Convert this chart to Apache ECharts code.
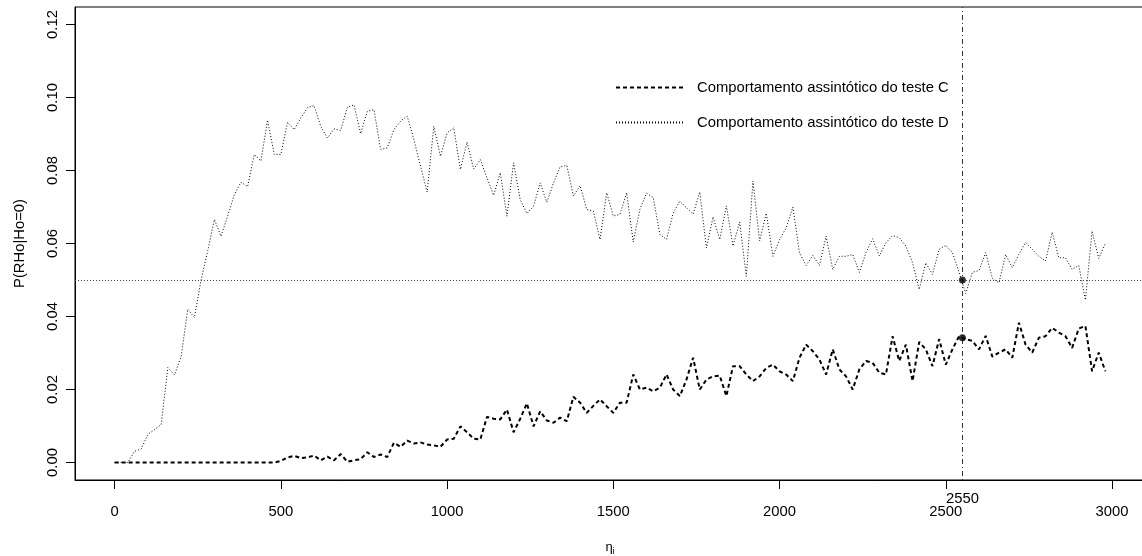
<!DOCTYPE html>
<html>
<head>
<meta charset="utf-8">
<script src="https://cdn.jsdelivr.net/npm/echarts@6/dist/echarts.min.js"></script>
<style>
  html, body { margin: 0; padding: 0; background: #fff; }
  #chart { width: 1142px; height: 556px; }
</style>
</head>
<body>
<div id="chart"></div>
<script>
// Sample sizes (n_i) at which both tests were simulated
const sampleSizes = [
  0, 20, 40, 60, 80, 100, 120, 140, 160, 180, 200, 220, 240, 260, 280, 300, 320, 340, 360, 380,
  400, 420, 440, 460, 480, 500, 520, 540, 560, 580, 600, 620, 640, 660, 680, 700, 720, 740, 760, 780,
  800, 820, 840, 860, 880, 900, 920, 940, 960, 980, 1000, 1020, 1040, 1060, 1080, 1100, 1120, 1140, 1160, 1180,
  1200, 1220, 1240, 1260, 1280, 1300, 1320, 1340, 1360, 1380, 1400, 1420, 1440, 1460, 1480, 1500, 1520, 1540, 1560, 1580,
  1600, 1620, 1640, 1660, 1680, 1700, 1720, 1740, 1760, 1780, 1800, 1820, 1840, 1860, 1880, 1900, 1920, 1940, 1960, 1980,
  2000, 2020, 2040, 2060, 2080, 2100, 2120, 2140, 2160, 2180, 2200, 2220, 2240, 2260, 2280, 2300, 2320, 2340, 2360, 2380,
  2400, 2420, 2440, 2460, 2480, 2500, 2520, 2540, 2560, 2580, 2600, 2620, 2640, 2660, 2680, 2700, 2720, 2740, 2760, 2780,
  2800, 2820, 2840, 2860, 2880, 2900, 2920, 2940, 2960, 2980
];

// Empirical rejection rate of test C
const testC = [
  0, 0, 0, 0, 0, 0, 0, 0, 0, 0, 0, 0, 0, 0, 0, 0, 0, 0, 0, 0,
  0, 0, 0, 0, 0, 0.0004, 0.0014, 0.0018, 0.0012, 0.0014, 0.0019, 0.0006, 0.0016, 0.0006, 0.0023, 0.0002, 0.0006, 0.0009, 0.0028, 0.0015,
  0.0022, 0.0015, 0.0054, 0.0043, 0.0060, 0.0052, 0.0055, 0.0049, 0.0047, 0.0043, 0.0063, 0.0065, 0.0099, 0.0083, 0.0065, 0.0063, 0.0125, 0.0120, 0.0118, 0.0145,
  0.0083, 0.0120, 0.0162, 0.0099, 0.0140, 0.0115, 0.0109, 0.0123, 0.0113, 0.0180, 0.0164, 0.0136, 0.0155, 0.0173, 0.0154, 0.0136, 0.0164, 0.0164, 0.0241, 0.0200,
  0.0205, 0.0195, 0.0205, 0.0241, 0.0200, 0.0182, 0.0227, 0.0287, 0.0200, 0.0227, 0.0236, 0.0238, 0.0182, 0.0264, 0.0264, 0.0241, 0.0223, 0.0236, 0.0259, 0.0268,
  0.0250, 0.0241, 0.0223, 0.0287, 0.0323, 0.0305, 0.0282, 0.0241, 0.0310, 0.0255, 0.0236, 0.0200, 0.0255, 0.0278, 0.0273, 0.0246, 0.0241, 0.0346, 0.0278, 0.0323,
  0.0223, 0.0330, 0.0310, 0.0264, 0.0338, 0.0268, 0.0310, 0.0346, 0.0338, 0.0333, 0.0310, 0.0347, 0.0290, 0.0301, 0.0310, 0.0287, 0.0383, 0.0323, 0.0301, 0.0342,
  0.0346, 0.0369, 0.0356, 0.0346, 0.0314, 0.0367, 0.0374, 0.0250, 0.0301, 0.0250
];

// Empirical rejection rate of test D
const testD = [
  0, 0, 0, 0.0031, 0.0037, 0.0077, 0.0090, 0.0104, 0.0260, 0.0240, 0.0290, 0.0420, 0.0397, 0.0500, 0.0580, 0.0666, 0.0620, 0.0675, 0.0734, 0.0768,
  0.0756, 0.0844, 0.0826, 0.0938, 0.0844, 0.0844, 0.0932, 0.0912, 0.0944, 0.0972, 0.0978, 0.0921, 0.0889, 0.0914, 0.0910, 0.0973, 0.0980, 0.0901, 0.0962, 0.0967,
  0.0858, 0.0862, 0.0912, 0.0935, 0.0949, 0.0885, 0.0812, 0.0741, 0.0921, 0.0839, 0.0903, 0.0917, 0.0803, 0.0878, 0.0804, 0.0830, 0.0780, 0.0732, 0.0794, 0.0675,
  0.0821, 0.0720, 0.0682, 0.0702, 0.0766, 0.0713, 0.0766, 0.0810, 0.0814, 0.0730, 0.0759, 0.0693, 0.0689, 0.0611, 0.0739, 0.0675, 0.0680, 0.0739, 0.0604, 0.0694,
  0.0738, 0.0726, 0.0625, 0.0611, 0.0683, 0.0716, 0.0698, 0.0680, 0.0741, 0.0588, 0.0673, 0.0611, 0.0703, 0.0593, 0.0659, 0.0510, 0.0771, 0.0607, 0.0683, 0.0565,
  0.0611, 0.0643, 0.0700, 0.0574, 0.0540, 0.0567, 0.0540, 0.0620, 0.0529, 0.0565, 0.0565, 0.0570, 0.0521, 0.0575, 0.0613, 0.0566, 0.0602, 0.0622, 0.0616, 0.0593,
  0.0547, 0.0474, 0.0547, 0.0515, 0.0584, 0.0595, 0.0575, 0.0521, 0.0463, 0.0521, 0.0526, 0.0575, 0.0505, 0.0492, 0.0570, 0.0534, 0.0570, 0.0603, 0.0584, 0.0565,
  0.0552, 0.0631, 0.0561, 0.0561, 0.0529, 0.0540, 0.0445, 0.0634, 0.0559, 0.0600
];

const xTicks = [0, 500, 1000, 1500, 2000, 2500, 3000];
const yTicks = [0, 0.02, 0.04, 0.06, 0.08, 0.10, 0.12];
const nominalLevel = 0.05;   // significance level
const cutoffN = 2550;        // sample size highlighted on the axis
const seriesNames = ['Comportamento assintótico do teste C', 'Comportamento assintótico do teste D'];

// R-style axis ranges: data range padded by 4% on each side
const xSpan = sampleSizes[sampleSizes.length - 1] - sampleSizes[0];
const xMin = sampleSizes[0] - 0.04 * xSpan;
const xMax = sampleSizes[sampleSizes.length - 1] + 0.04 * xSpan;
const ySpan = yTicks[yTicks.length - 1] - yTicks[0];
const yMin = yTicks[0] - 0.04 * ySpan;
const yMax = yTicks[yTicks.length - 1] + 0.04 * ySpan;

// value of a series at an arbitrary sample size (linear between neighbours)
function valueAt(xs, ys, x) {
  for (let i = 1; i < xs.length; i++) {
    if (xs[i] >= x) {
      const t = (x - xs[i - 1]) / (xs[i] - xs[i - 1]);
      return ys[i - 1] + t * (ys[i] - ys[i - 1]);
    }
  }
  return ys[ys.length - 1];
}
const cAtCutoff = valueAt(sampleSizes, testC, cutoffN);

const FONT = '"Liberation Sans", Arial, Helvetica, sans-serif';
const FS = 14.8;
const plain = v => String(v);

const chart = echarts.init(document.getElementById('chart'), null, { renderer: 'canvas' });

chart.setOption({
  animation: false,
  backgroundColor: '#ffffff',
  textStyle: { fontFamily: FONT },
  grid: {
    left: 75, right: -3, top: 7, bottom: 76,
    outerBoundsMode: 'none',
    containLabel: false,
    show: true, borderColor: '#000', borderWidth: 1, backgroundColor: 'transparent'
  },
  legend: {
    orient: 'vertical',
    left: 610, top: 75,
    itemWidth: 67, itemHeight: 16, itemGap: 20,
    data: seriesNames,
    itemStyle: { color: 'rgba(0,0,0,0)', borderWidth: 0, opacity: 0 },
    textStyle: { fontFamily: FONT, fontSize: FS, color: '#000', padding: [0, 0, 0, 9] },
    selectedMode: false
  },
  xAxis: [{
    type: 'value', min: xMin, max: xMax,
    axisLine: { show: true, onZero: false, lineStyle: { color: '#000', width: 1 } },
    splitLine: { show: false },
    axisTick: { show: true, inside: false, customValues: xTicks, length: 9, lineStyle: { color: '#000', width: 1 } },
    axisLabel: { customValues: xTicks, margin: 24, fontSize: FS, color: '#000', fontFamily: FONT, formatter: plain },
    name: '{e|η}{s|i}',
    nameLocation: 'middle',
    nameGap: 59,
    nameTextStyle: {
      rich: {
        e: { fontSize: 13, fontFamily: FONT, color: '#000' },
        s: { fontSize: 9, fontFamily: FONT, color: '#000', padding: [8, 0, 0, 0] }
      }
    }
  }, {
    // extra axis carrying the highlighted sample size
    type: 'value', min: xMin, max: xMax, position: 'bottom',
    axisLine: { show: false, onZero: false }, splitLine: { show: false }, axisTick: { show: false },
    axisLabel: { customValues: [cutoffN], margin: 11, fontSize: FS, color: '#000', fontFamily: FONT, formatter: plain }
  }],
  yAxis: {
    type: 'value', min: yMin, max: yMax,
    axisLine: { show: true, onZero: false, lineStyle: { color: '#000', width: 1 } },
    splitLine: { show: false },
    axisTick: { show: true, inside: false, customValues: yTicks, length: 9, lineStyle: { color: '#000', width: 1 } },
    axisLabel: {
      customValues: yTicks, rotate: 90, margin: 15, fontSize: FS, color: '#000', fontFamily: FONT,
      formatter: v => v.toFixed(2)
    },
    name: 'P(RHo|Ho=0)',
    nameLocation: 'middle',
    nameRotate: 90,
    nameGap: 48,
    nameTextStyle: { fontSize: FS, color: '#000', fontFamily: FONT }
  },
  series: [
    {
      name: seriesNames[0],
      type: 'line',
      data: sampleSizes.map((n, i) => [n, testC[i]]),
      symbol: 'none',
      lineStyle: { color: '#000', width: 2, type: [4, 3] },
      itemStyle: { color: '#000' },
      z: 3
    },
    {
      name: seriesNames[1],
      type: 'line',
      data: sampleSizes.map((n, i) => [n, testD[i]]),
      symbol: 'none',
      lineStyle: { color: '#000', width: 1, type: [1, 2] },
      itemStyle: { color: '#000' },
      z: 3,
      markLine: {
        silent: true, symbol: 'none', label: { show: false },
        data: [
          { yAxis: nominalLevel, lineStyle: { color: '#444', width: 1, type: [1, 2] } },
          { xAxis: cutoffN, lineStyle: { color: '#333', width: 1, type: [1, 3, 5, 3] } }
        ]
      }
    },
    {
      name: 'marcas',
      type: 'scatter',
      data: [[cutoffN, nominalLevel], [cutoffN, cAtCutoff]],
      symbol: 'circle', symbolSize: 7,
      itemStyle: { color: '#000' },
      z: 5
    }
  ]
});
</script>
</body>
</html>
